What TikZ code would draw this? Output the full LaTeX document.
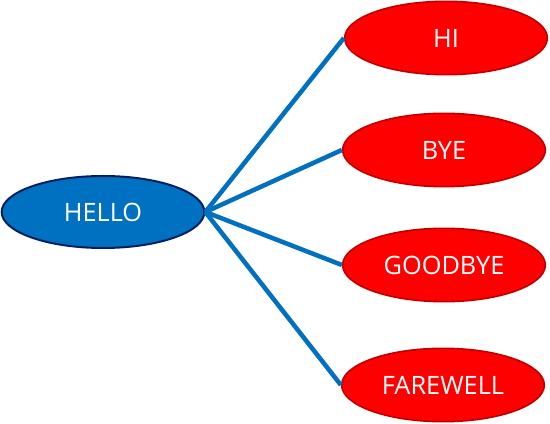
\documentclass[tikz,border=0pt]{standalone}
\usepackage{fontspec}
\setmainfont{Open Sans}
\usetikzlibrary{shapes.geometric}
\definecolor{hellofill}{RGB}{0,112,192}
\definecolor{helloedge}{RGB}{0,32,96}
\definecolor{wordfill}{RGB}{255,0,0}
\definecolor{wordedge}{RGB}{192,0,0}
\definecolor{linkblue}{RGB}{0,112,192}

\begin{document}
\begin{tikzpicture}[x=0.75pt, y=0.75pt,
    every node/.style={font=\fontsize{19}{21}\selectfont, text=white},
    root/.style={ellipse, draw=helloedge, fill=hellofill, line width=1.5pt,
        inner sep=0pt, minimum width=152pt, minimum height=54pt},
    word/.style={ellipse, draw=wordedge, fill=wordfill, line width=1.2pt,
        inner sep=0pt, minimum width=152pt, minimum height=55pt},
    link/.style={draw=linkblue, line width=3.4pt}]
            \useasboundingbox (0,0) rectangle (550,424);

            % Centre
            \node[root] (hello) at (103,212) {HELLO};

            % Answers
            \node[word] (hi) at (446,386) {HI};
            \node[word] (bye) at (444,274) {BYE};
            \node[word] (goodbye) at (444,159) {GOODBYE};
            \node[word] (farewell) at (443,39) {FAREWELL};

            % Links
            \draw[link] (hello.east) -- (hi.west);
            \draw[link] (hello.east) -- (bye.west);
            \draw[link] (hello.east) -- (goodbye.west);
            \draw[link] (hello.east) -- (farewell.west);
        \end{tikzpicture}
\end{document}
